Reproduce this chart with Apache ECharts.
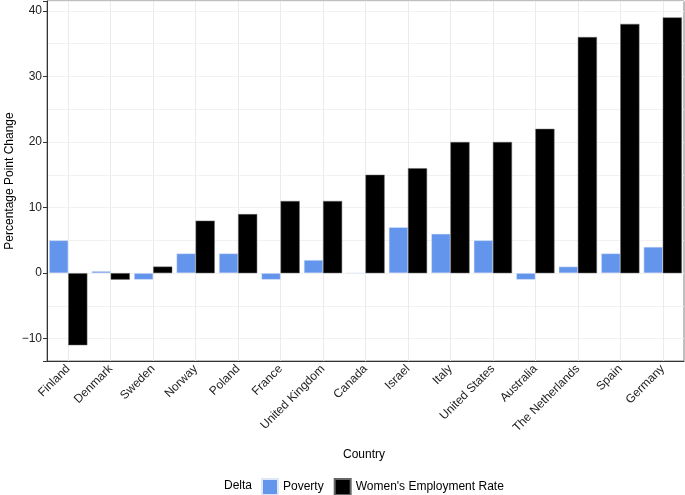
<!DOCTYPE html>
<html><head><meta charset="utf-8">
<script src="https://cdn.jsdelivr.net/npm/echarts@6/dist/echarts.min.js"></script>
<style>html,body{margin:0;padding:0;background:#fff}#c{width:685px;height:495px}</style>
</head><body><div id="c"></div>
<script>
const countries = ["Finland","Denmark","Sweden","Norway","Poland","France","United Kingdom","Canada","Israel","Italy","United States","Australia","The Netherlands","Spain","Germany"];
const poverty = [5, 0.3, -1, 3, 3, -1, 2, 0, 7, 6, 5, -1, 1, 3, 4];
const employment = [-11, -1, 1, 8, 9, 11, 11, 15, 16, 20, 20, 22, 36, 38, 39];
const yMin = -13.4, yMax = 41.5;
const FONT = 'Liberation Sans, Arial, sans-serif';
const chart = echarts.init(document.getElementById('c'), null, {renderer:'canvas'});
const fmt = v => (Math.abs(v % 10) < 1e-9 ? String(v).replace('-', '\u2212') : '');
chart.setOption({
  animation: false,
  textStyle: {fontFamily: FONT},
  grid: {left: 47, right: 1, top: 1, bottom: 134, show: true, borderColor: '#7f7f7f', borderWidth: 1},
  legend: {
    top: 473, left: 256, itemWidth: 16, itemHeight: 16, itemGap: 10, padding: 5,
    textStyle: {fontFamily: FONT, fontSize: 12, color: '#000'},
    data: [{name: 'Poverty', icon: 'rect'}, {name: "Women's Employment Rate", icon: 'rect'}]
  },
  graphic: [
    {type: 'text', left: 224, top: 480, style: {text: 'Delta', font: '12px ' + FONT, fill: '#000'}},
    {type: 'text', left: 343, top: 449, style: {text: 'Country', font: '12px ' + FONT, fill: '#000'}},
    {type: 'text', x: 4, y: 181, rotation: Math.PI / 2, style: {text: 'Percentage Point Change', font: '12px ' + FONT, fill: '#000', align: 'center', verticalAlign: 'top'}}
  ],
  xAxis: {
    type: 'category', data: countries,
    axisLine: {onZero: false, lineStyle: {color: '#333'}},
    axisTick: {alignWithLabel: true, length: 4, lineStyle: {color: '#333'}},
    axisLabel: {rotate: 45, fontSize: 12, color: '#222', margin: 6, interval: 0, fontFamily: FONT},
    splitLine: {show: true, alignWithLabel: true, lineStyle: {color: '#ebebeb', width: 1}}
  },
  yAxis: [
    {
      type: 'value', min: yMin, max: yMax, splitNumber: 5,
      axisLine: {show: true, lineStyle: {color: '#333'}},
      axisTick: {show: true, length: 4, lineStyle: {color: '#333'}},
      axisLabel: {formatter: fmt, fontSize: 12, color: '#222', margin: 5, fontFamily: FONT},
      splitLine: {show: true, lineStyle: {color: '#ebebeb', width: 1.2}}
    },
    {
      type: 'value', min: yMin, max: yMax, splitNumber: 10, position: 'left',
      axisLine: {show: false}, axisTick: {show: false}, axisLabel: {show: false},
      splitLine: {show: true, lineStyle: {color: '#f2f2f2', width: 1}}
    }
  ],
  series: [
    {name: 'Poverty', type: 'bar', data: poverty, yAxisIndex: 0, barGap: '0%', barCategoryGap: '10%',
     itemStyle: {color: '#6495ED', borderColor: '#dfe7f7', borderWidth: 0.5}},
    {name: "Women's Employment Rate", type: 'bar', data: employment, yAxisIndex: 0,
     itemStyle: {color: '#000000', borderColor: '#666', borderWidth: 0.5}}
  ]
});
</script></body></html>
